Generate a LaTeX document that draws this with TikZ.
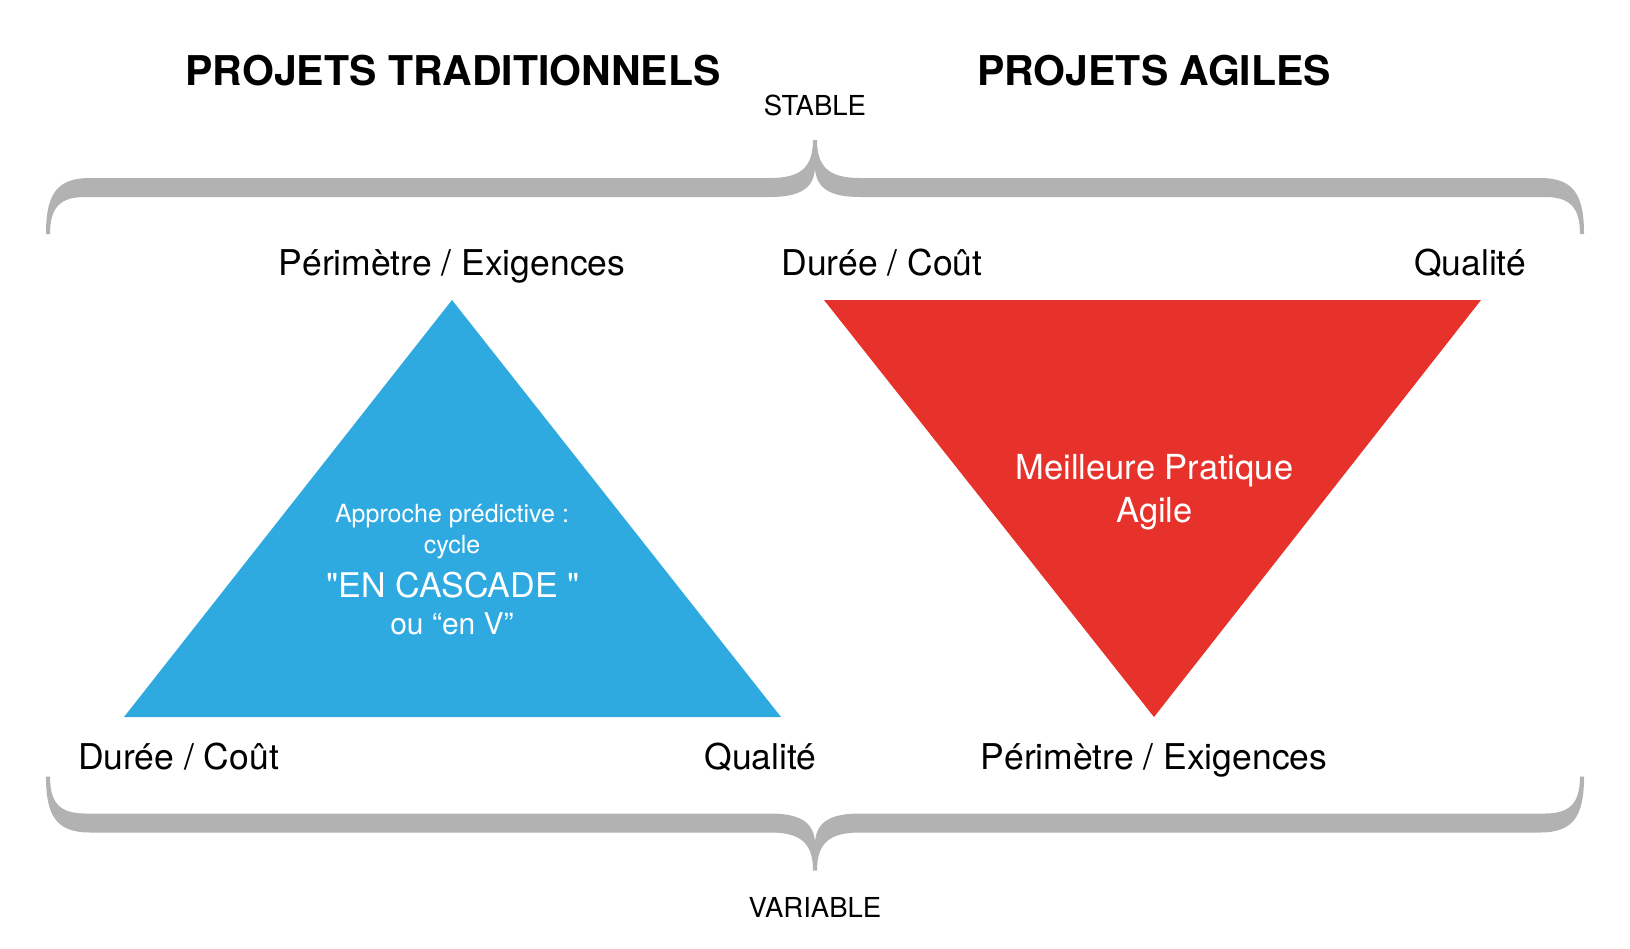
\documentclass[tikz,border=0pt]{standalone}
\usepackage{fontspec}
\setmainfont{TeX Gyre Heros}
\newfontfamily\plainfont{TeX Gyre Heros}
\definecolor{bracegrey}{HTML}{B3B2B2}
\definecolor{tblue}{HTML}{2EAAE1}
\definecolor{tred}{HTML}{E7312B}
\tikzset{
  lbl/.style={anchor=base, inner sep=0pt, font=\fontsize{35.5}{40}\selectfont, text=black},
  ttl/.style={anchor=base, inner sep=0pt, font=\fontsize{41}{48}\selectfont\bfseries, text=black},
  small/.style={anchor=base, inner sep=0pt, font=\fontsize{27.5}{32}\selectfont, text=black},
  wtxt/.style={anchor=base, inner sep=0pt, text=white},
  bracefill/.style={fill=bracegrey, draw=none}
}
\newcommand{\mybrace}{%
  (46,46.5) .. controls (46,7.5) and (56,-9.5) .. (90,-9.5)
  -- (770,-9.5) .. controls (800,-9.5) and (813,-19.5) .. (813,-47.5)
  -- (817,-47.5) .. controls (817,-19.5) and (830,-9.5) .. (860,-9.5)
  -- (1540,-9.5) .. controls (1574,-9.5) and (1584,7.5) .. (1584,46.5)
  -- (1580,46.5) .. controls (1580,20) and (1570,9.5) .. (1545,9.5)
  -- (860,9.5) .. controls (832,9.5) and (816,2) .. (815,-19.5)
  .. controls (814,2) and (798,9.5) .. (770,9.5)
  -- (85,9.5) .. controls (60,9.5) and (50,20) .. (50,46.5) -- cycle}
\begin{document}
\begin{tikzpicture}[x=1pt,y=-1pt]
\useasboundingbox (0,0) rectangle (1630,948);
% braces
\begin{scope}[shift={(0,187.5)}]
  \fill[bracefill] \mybrace;
\end{scope}
\begin{scope}[shift={(0,823)},yscale=-1]
  \fill[bracefill] \mybrace;
\end{scope}
% triangles
\fill[tblue] (452,300) -- (124,717) -- (781,717) -- cycle;
\fill[tred] (824,300) -- (1481,300) -- (1154,717) -- cycle;
% titles
\node[ttl] (t1) at (453,85) {PROJETS TRADITIONNELS};
\node[ttl] (t2) at (1154,85) {PROJETS AGILES};
\node[small] (stable) at (815,115) {STABLE};
\node[small] (variable) at (815,917) {VARIABLE};
% left labels
\node[lbl] (lp) at (452,275) {Périmètre / Exigences};
\node[lbl] (ld) at (178.5,769) {Durée / Coût};
\node[lbl] (lq) at (760.5,769) {Qualité};
% right labels
\node[lbl] (rd) at (882,275) {Durée / Coût};
\node[lbl] (rq) at (1470,275) {Qualité};
\node[lbl] (rp) at (1154,769) {Périmètre / Exigences};
% blue text
\node[wtxt, font=\plainfont\fontsize{25}{30}\selectfont] (b1) at (452,522) {Approche prédictive :};
\node[wtxt, font=\plainfont\fontsize{25}{30}\selectfont] (b2) at (452,553) {cycle};
\node[wtxt, font=\plainfont\fontsize{34}{40}\selectfont] (b3) at (453,597) {"EN CASCADE "};
\node[wtxt, font=\plainfont\fontsize{30}{36}\selectfont] (b4) at (452,634) {ou “en V”};
% red text
\node[wtxt, font=\fontsize{34.5}{40}\selectfont] (r1) at (1154.5,479) {Meilleure Pratique};
\node[wtxt, font=\fontsize{34.5}{40}\selectfont] (r2) at (1154.5,522) {Agile};
\end{tikzpicture}
\end{document}
